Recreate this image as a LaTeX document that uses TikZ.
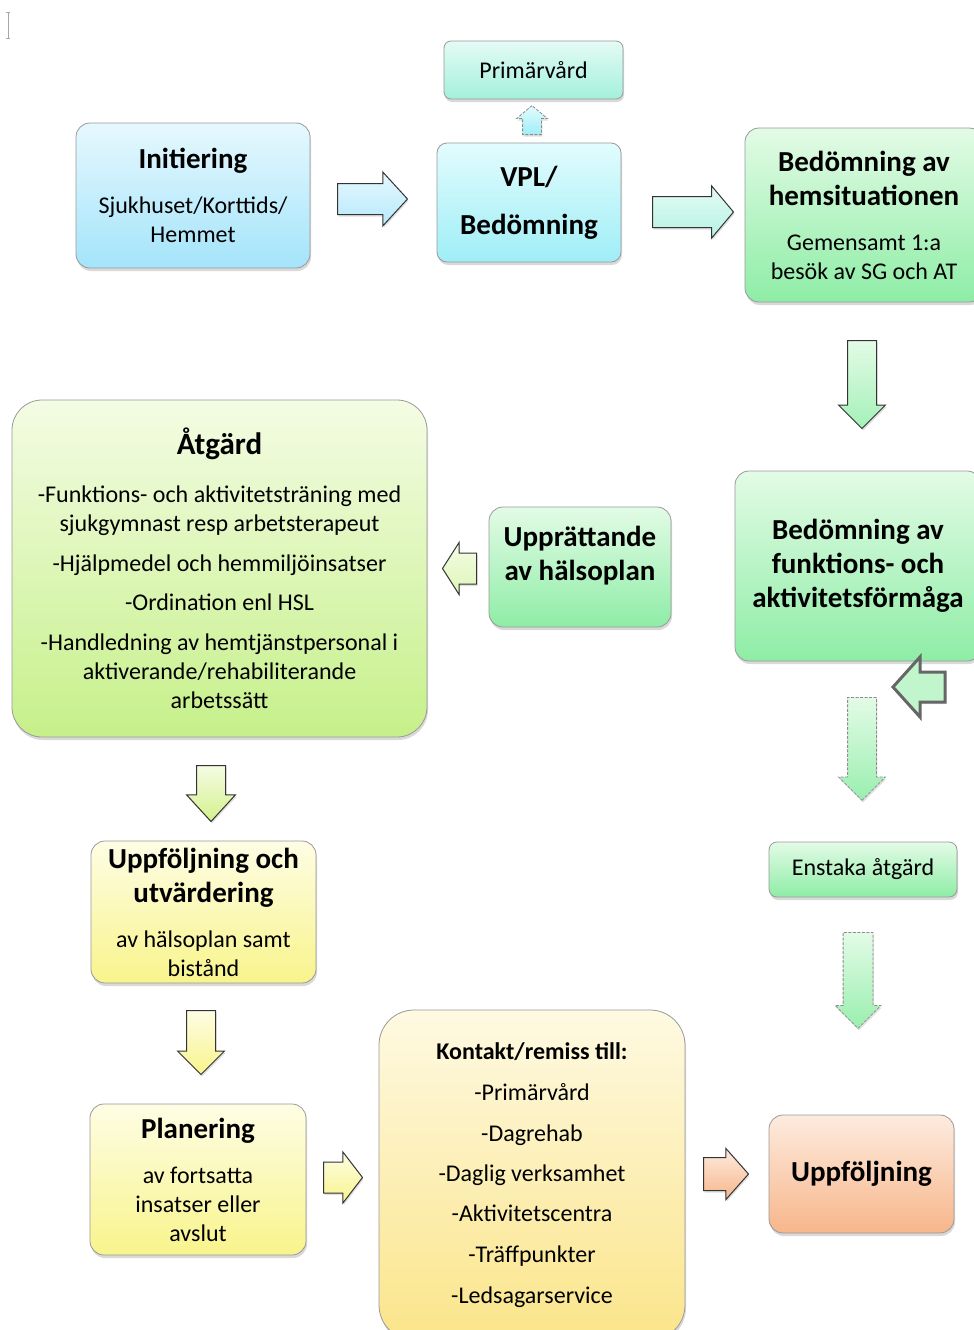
\documentclass[tikz,border=0pt]{standalone}
\usepackage{fontspec}
\setmainfont{Carlito}
\usetikzlibrary{shapes.arrows,shadows}

\definecolor{initT}{HTML}{E6F8FE}\definecolor{initB}{HTML}{A4E4FA}
\definecolor{primT}{HTML}{E4FBF5}\definecolor{primB}{HTML}{A3F0DB}
\definecolor{vplT}{HTML}{E2FCFD}\definecolor{vplB}{HTML}{9FEEF7}
\definecolor{grnT}{HTML}{E3FBE6}\definecolor{grnB}{HTML}{8EEDA6}
\definecolor{limeT}{HTML}{F4FCE4}\definecolor{limeB}{HTML}{C6F08A}
\definecolor{yelT}{HTML}{FEFDE4}\definecolor{yelB}{HTML}{F8F48C}
\definecolor{goldT}{HTML}{FEF9E2}\definecolor{goldB}{HTML}{FBE58A}
\definecolor{peachT}{HTML}{FDEBDF}\definecolor{peachB}{HTML}{F7B68A}

\newcommand{\boxhead}[1]{{\bfseries\fontsize{29}{34}\selectfont #1}}

\begin{document}
\begin{tikzpicture}[x=1pt, y=-1pt, every node/.style={font=\fontsize{24}{29}\selectfont, align=center, inner sep=0pt},
  box/.style={draw=black!40, line width=0.8pt, rounded corners=14pt, drop shadow={shadow xshift=1pt, shadow yshift=-3pt, opacity=0.3}},
  blk/.style={single arrow, anchor=tail, draw=black!80, line width=1pt, drop shadow={shadow xshift=1pt, shadow yshift=-2pt, opacity=0.25}},
  dsh/.style={blk, draw=black!45, line width=0.8pt, dash pattern=on 3pt off 1.5pt}]
  \clip (0,0) rectangle (974,1330);
  \draw[gray!70, line width=0.6pt] (6,12) -- (10,12) (8,12) -- (8,38) (6,38) -- (10,38);

  % top row
  \node[box, top color=initT, bottom color=initB, minimum width=234, minimum height=145] (init) at (193,195.5) {\boxhead{Initiering}\\[16pt]Sjukhuset/Korttids/\\Hemmet};
  \node[box, top color=primT, bottom color=primB, rounded corners=7pt, minimum width=179, minimum height=58] (prim) at (533.5,70) {Primärvård};
  \node[box, top color=vplT, bottom color=vplB, rounded corners=10pt, minimum width=184, minimum height=119] (vpl) at (529,202.5) {\boxhead{VPL/}\\[19pt]\boxhead{Bedömning}};
  \node[box, top color=grnT, bottom color=grnB, minimum width=238, minimum height=174] (hem) at (864,215) {\boxhead{Bedömning av}\\[5pt]\boxhead{hemsituationen}\\[16pt]Gemensamt 1:a\\besök av SG och AT};

  % right column
  \node[box, top color=grnT, bottom color=grnB, minimum width=246, minimum height=190] (funk) at (858,566) {\boxhead{Bedömning av}\\[5pt]\boxhead{funktions- och}\\[5pt]\boxhead{aktivitetsförmåga}};
  \node[box, top color=grnT, bottom color=grnB, rounded corners=8pt, minimum width=188, minimum height=55] (enst) at (863,869.5) {Enstaka åtgärd};
  \node[box, top color=peachT, bottom color=peachB, minimum width=185, minimum height=118] (uppf) at (861.5,1174) {\boxhead{Uppföljning}};

  % middle and left
  \node[box, top color=grnT, bottom color=grnB, minimum width=182, minimum height=120] (hplan) at (580,567) {};
  \node (hplan-t) at (580,556) {\boxhead{Upprättande}\\[5pt]\boxhead{av hälsoplan}};
  \node[box, top color=limeT, bottom color=limeB, rounded corners=30pt, minimum width=415, minimum height=337] (atg) at (219.5,568.5) {{\bfseries\fontsize{31}{36}\selectfont Åtgärd}\\[19pt]-Funktions- och aktivitetsträning med\\sjukgymnast resp arbetsterapeut\\[11pt]-Hjälpmedel och hemmiljöinsatser\\[10pt]-Ordination enl HSL\\[11pt]-Handledning av hemtjänstpersonal i\\aktiverande/rehabiliterande\\arbetssätt};
  \node[box, top color=yelT, bottom color=yelB, minimum width=225, minimum height=142] (uut) at (203.5,912) {\boxhead{Uppföljning och}\\[5pt]\boxhead{utvärdering}\\[16pt]av hälsoplan samt\\bistånd};
  \node[box, top color=yelT, bottom color=yelB, minimum width=216, minimum height=151] (plan) at (198,1179.5) {\boxhead{Planering}\\[16pt]av fortsatta\\insatser eller\\avslut};
  \node[box, top color=goldT, bottom color=goldB, rounded corners=35pt, minimum width=306, minimum height=330] (kont) at (532,1175) {{\bfseries Kontakt/remiss till:}\\[12pt]-Primärvård\\[12pt]-Dagrehab\\[11pt]-Daglig verksamhet\\[11pt]-Aktivitetscentra\\[12pt]-Träffpunkter\\[12pt]-Ledsagarservice};

  % block arrows
  \node[blk, top color=initT, bottom color=initB!80, minimum height=70, inner ysep=15, single arrow head extend=11.5, single arrow tip angle=95] (a1) at (337,199) {};
  \node[blk, top color=primT, bottom color=primB!80, minimum height=81, inner ysep=15, single arrow head extend=10.5, single arrow tip angle=100] (a2) at (652,212) {};
  \node[dsh, rotate=90, top color=vplT, bottom color=vplB, minimum height=29, inner ysep=9, single arrow head extend=6, single arrow tip angle=100] (a0) at (532,135) {};
  \node[blk, rotate=270, top color=grnT, bottom color=grnB!80, minimum height=88, inner ysep=14, single arrow head extend=9] (a3) at (862,340) {};
  \node[blk, rotate=180, fill=grnT!60!grnB, draw=black!60, line width=3pt, minimum height=52, inner ysep=13.5, single arrow head extend=15, single arrow tip angle=96] (a4) at (946.5,687) {};
  \node[dsh, rotate=270, top color=grnT, bottom color=grnB!90, minimum height=103, inner ysep=14, single arrow head extend=9] (a5) at (862,697) {};
  \node[dsh, rotate=270, top color=grnT, bottom color=grnB!90, minimum height=96, inner ysep=14.5, single arrow head extend=8] (a6) at (858,932) {};
  \node[blk, rotate=180, top color=limeT, bottom color=limeT!50!limeB, minimum height=34, inner ysep=15, single arrow head extend=10.5, single arrow tip angle=115] (a7) at (477,568.5) {};
  \node[blk, rotate=270, top color=limeT, bottom color=limeB!70!yelB, minimum height=56, inner ysep=14, single arrow head extend=10, single arrow tip angle=85] (a8) at (211,765) {};
  \node[blk, rotate=270, top color=yelT, bottom color=yelB, minimum height=64, inner ysep=14, single arrow head extend=9] (a9) at (201,1010) {};
  \node[blk, top color=yelT, bottom color=yelB, minimum height=39, inner ysep=15, single arrow head extend=10, single arrow tip angle=105] (a10) at (323,1177.5) {};
  \node[blk, top color=peachT, bottom color=peachB, minimum height=45, inner ysep=16, single arrow head extend=9, single arrow tip angle=97] (a11) at (703,1174) {};
\end{tikzpicture}
\end{document}
